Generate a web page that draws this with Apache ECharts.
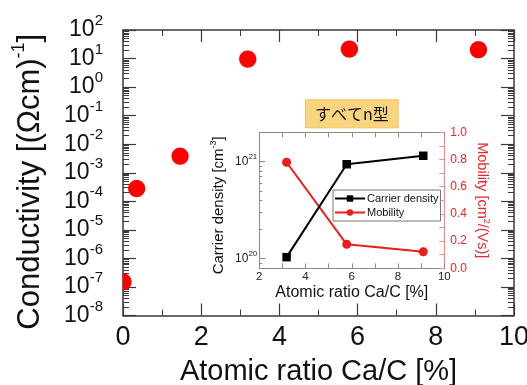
<!DOCTYPE html>
<html>
<head>
<meta charset="utf-8">
<script src="https://cdn.jsdelivr.net/npm/echarts@6/dist/echarts.min.js"></script>
<style>
  html, body { margin: 0; padding: 0; background: #ffffff; }
  #chart { width: 527px; height: 385px; }
</style>
</head>
<body>
<div id="chart"></div>
<script>
// Main panel: electrical conductivity against Ca content
const caRatio = [0, 0.35, 1.46, 3.19, 5.79, 9.09];
const conductivity = [1.5e-7, 2.8e-4, 3.8e-3, 9.6, 21.5, 20.4];

// Inset: Hall measurement results
const insetRatio = [3.18, 5.78, 9.09];
const carrierDensity = [1.03e20, 9.4e20, 1.15e21];
const mobility = [0.78, 0.176, 0.122];

// Series / legend names and panel texts
const seriesNames = ['Carrier density', 'Mobility'];
const badgeText = 'すべてn型';

// Axis ranges
const mainX = [0, 10];
const mainY = [1e-8, 1e2];
const insetX = [2, 10];
const insetDensity = [7.9e19, 2.01e21];
const insetMobility = [0, 1];

const FONT = '"Liberation Sans", Arial, sans-serif';
const AXIS_DARK = '#3a3a3a';
const INSET_GRAY = '#8a8a8a';
const RED = '#ff0000';
const INSET_RED = '#e8272b';

// "10^n" label for exact powers of ten, empty otherwise
function pow10Label(v) {
  const e = Math.round(Math.log10(v));
  if (Math.abs(Math.log10(v) - e) > 1e-6) return '';
  return '{b|10}{s|' + e + '}';
}

function mirrorAxis(extra) {
  return Object.assign({
    axisLine: { show: true, onZero: false, lineStyle: { color: AXIS_DARK, width: 1.5 } },
    axisTick: { show: true, inside: true, length: 12, lineStyle: { color: AXIS_DARK, width: 1.2 } },
    minorTick: { show: true, length: 6, lineStyle: { color: AXIS_DARK, width: 1 } },
    axisLabel: { show: false },
    splitLine: { show: false },
    minorSplitLine: { show: false }
  }, extra);
}

// Filled disc cut to the plotting rectangle [x0, x1] x [y0, y1]
function clippedDisc(cx, cy, r, x0, x1, y0, y1) {
  const pts = [];
  const n = 60;
  for (let k = 0; k < n; k++) {
    const a = (k / n) * Math.PI * 2;
    const x = Math.min(Math.max(cx + r * Math.cos(a), x0), x1);
    const y = Math.min(Math.max(cy + r * Math.sin(a), y0), y1);
    pts.push([x, y]);
  }
  return pts;
}

const chart = echarts.init(document.getElementById('chart'), null, { renderer: 'canvas' });

const option = {
  backgroundColor: '#ffffff',
  animation: false,
  grid: [
    { left: 123, right: 13, top: 30, bottom: 69.5, outerBoundsMode: 'none' },
    { left: 259.3, right: 82.7, top: 132.3, bottom: 116.7, outerBoundsMode: 'none' }
  ],
  legend: {
    left: 333, top: 190,
    orient: 'vertical',
    itemWidth: 30, itemHeight: 8, itemGap: 3,
    padding: [3, 2, 3, 1],
    borderColor: '#777', borderWidth: 1,
    backgroundColor: '#ffffff',
    textStyle: { fontFamily: FONT, fontSize: 11, color: '#111', padding: [0, 0, 0, -3] },
    data: seriesNames
  },
  xAxis: [
    // main, bottom
    mirrorAxis({
      gridIndex: 0, type: 'value', position: 'bottom', min: mainX[0], max: mainX[1], interval: 2,
      minorTick: { show: true, splitNumber: 2, length: 6, lineStyle: { color: AXIS_DARK, width: 1 } },
      axisLabel: { show: true, margin: 9, fontFamily: FONT, fontSize: 27, color: '#111' },
      name: 'Atomic ratio Ca/C [%]', nameLocation: 'middle', nameGap: 42,
      nameTextStyle: { fontFamily: FONT, fontSize: 29, color: '#111' }
    }),
    // main, top mirror
    mirrorAxis({
      gridIndex: 0, type: 'value', position: 'top', min: mainX[0], max: mainX[1], interval: 2,
      minorTick: { show: true, splitNumber: 2, length: 6, lineStyle: { color: AXIS_DARK, width: 1 } }
    }),
    // inset, bottom
    mirrorAxis({
      gridIndex: 1, type: 'value', position: 'bottom', min: insetX[0], max: insetX[1], interval: 2,
      axisLine: { show: true, onZero: false, lineStyle: { color: INSET_GRAY, width: 1 } },
      axisTick: { show: true, inside: true, length: 5, lineStyle: { color: INSET_GRAY, width: 1 } },
      minorTick: { show: true, splitNumber: 2, length: 5, lineStyle: { color: INSET_GRAY, width: 1 } },
      axisLabel: { show: true, margin: 3, fontFamily: FONT, fontSize: 11.5, color: '#222' },
      name: 'Atomic ratio Ca/C [%]', nameLocation: 'middle', nameGap: 16,
      nameTextStyle: { fontFamily: FONT, fontSize: 16, color: '#111' }
    }),
    // inset, top mirror
    mirrorAxis({
      gridIndex: 1, type: 'value', position: 'top', min: insetX[0], max: insetX[1], interval: 2,
      axisLine: { show: true, onZero: false, lineStyle: { color: INSET_GRAY, width: 1 } },
      axisTick: { show: true, inside: true, length: 5, lineStyle: { color: INSET_GRAY, width: 1 } },
      minorTick: { show: true, splitNumber: 2, length: 5, lineStyle: { color: INSET_GRAY, width: 1 } }
    })
  ],
  yAxis: [
    // main, left (log)
    mirrorAxis({
      gridIndex: 0, type: 'log', logBase: 10, position: 'left', min: mainY[0], max: mainY[1], interval: 1,
      axisTick: { show: true, inside: true, length: 13, lineStyle: { color: AXIS_DARK, width: 1.2 } },
      minorTick: { show: true, splitNumber: 9, length: 6, lineStyle: { color: AXIS_DARK, width: 1 } },
      axisLabel: {
        show: true, margin: 20, color: '#111', fontFamily: FONT,
        formatter: v => pow10Label(v),
        rich: {
          b: { fontFamily: FONT, fontSize: 23, color: '#111' },
          s: { fontFamily: FONT, fontSize: 15, color: '#111', padding: [0, 0, 18, 0] }
        }
      },
      name: 'Conductivity [(Ωcm){s|-1}]', nameLocation: 'middle', nameGap: 73, nameRotate: 90,
      nameTextStyle: {
        fontFamily: FONT, fontSize: 31, color: '#111', padding: [0, 18, 0, 0],
        rich: { s: { fontFamily: FONT, fontSize: 18, color: '#111', padding: [0, 0, 22, 0] } }
      }
    }),
    // main, right mirror (log)
    mirrorAxis({
      gridIndex: 0, type: 'log', logBase: 10, position: 'right', min: mainY[0], max: mainY[1], interval: 1,
      axisTick: { show: true, inside: true, length: 13, lineStyle: { color: AXIS_DARK, width: 1.2 } },
      minorTick: { show: true, splitNumber: 9, length: 6, lineStyle: { color: AXIS_DARK, width: 1 } }
    }),
    // inset, left (log carrier density)
    mirrorAxis({
      gridIndex: 1, type: 'log', logBase: 10, position: 'left', min: insetDensity[0], max: insetDensity[1],
      axisLine: { show: true, onZero: false, lineStyle: { color: INSET_GRAY, width: 1 } },
      axisTick: { show: true, inside: true, length: 6, lineStyle: { color: INSET_GRAY, width: 1 } },
      minorTick: { show: true, splitNumber: 9, length: 3, lineStyle: { color: INSET_GRAY, width: 1 } },
      axisLabel: {
        show: true, margin: 2, color: '#222', fontFamily: FONT,
        formatter: v => pow10Label(v),
        rich: {
          b: { fontFamily: FONT, fontSize: 12, color: '#222' },
          s: { fontFamily: FONT, fontSize: 8, color: '#222', padding: [0, 0, 9, 0] }
        }
      },
      name: 'Carrier density [cm{s|-3}]', nameLocation: 'middle', nameGap: 31, nameRotate: 90,
      nameTextStyle: {
        fontFamily: FONT, fontSize: 15, color: '#111', padding: [0, 10, 0, 0],
        rich: { s: { fontFamily: FONT, fontSize: 9, color: '#111', padding: [0, 0, 10, 0] } }
      }
    }),
    // inset, right (mobility)
    mirrorAxis({
      gridIndex: 1, type: 'value', position: 'right', min: insetMobility[0], max: insetMobility[1], interval: 0.2,
      axisLine: { show: true, onZero: false, lineStyle: { color: '#f08c8c', width: 1.2 } },
      axisTick: { show: true, inside: true, length: 5, lineStyle: { color: '#f08c8c', width: 1 } },
      minorTick: { show: true, splitNumber: 2, length: 5, lineStyle: { color: '#f08c8c', width: 1 } },
      axisLabel: {
        show: true, margin: 6, fontFamily: FONT, fontSize: 12, color: INSET_RED,
        formatter: v => v.toFixed(1)
      },
      name: 'Mobility [cm{s|2}/(Vs)]', nameLocation: 'middle', nameGap: 28, nameRotate: -90,
      nameTextStyle: {
        fontFamily: FONT, fontSize: 14.5, color: INSET_RED,
        rich: { s: { fontFamily: FONT, fontSize: 9, color: INSET_RED, padding: [0, 0, 10, 0] } }
      }
    })
  ],
  graphic: [
    {
      type: 'group', left: 305, top: 99.3,
      children: [
        {
          type: 'rect', shape: { x: 0, y: 0, width: 92.7, height: 28 },
          style: { fill: '#f9d47e', stroke: '#f3c45e', lineWidth: 1 }
        },
        {
          type: 'text', x: 46.3, y: 14,
          style: {
            text: badgeText, fill: '#111',
            font: '16px "Noto Sans CJK JP", sans-serif',
            align: 'center', verticalAlign: 'middle'
          }
        }
      ]
    }
  ],
  series: [
    {
      name: 'Conductivity',
      type: 'custom',
      xAxisIndex: 0, yAxisIndex: 0,
      encode: { x: 0, y: 1 },
      data: caRatio.map((x, i) => [x, conductivity[i]]),
      renderItem: (params, api) => {
        const p = api.coord([api.value(0), api.value(1)]);
        const lo = api.coord([mainX[0], mainY[0]]);
        const hi = api.coord([mainX[1], mainY[1]]);
        return {
          type: 'polygon',
          shape: {
            points: clippedDisc(p[0], p[1], 8.6,
              Math.min(lo[0], hi[0]), Math.max(lo[0], hi[0]),
              Math.min(lo[1], hi[1]), Math.max(lo[1], hi[1]))
          },
          style: { fill: RED }
        };
      }
    },
    {
      name: seriesNames[0],
      type: 'line',
      xAxisIndex: 2, yAxisIndex: 2,
      data: insetRatio.map((x, i) => [x, carrierDensity[i]]),
      symbol: 'rect', symbolSize: 8.5,
      itemStyle: { color: '#000000' },
      lineStyle: { color: '#000000', width: 2 },
      z: 5
    },
    {
      name: seriesNames[1],
      type: 'line',
      xAxisIndex: 2, yAxisIndex: 3,
      data: insetRatio.map((x, i) => [x, mobility[i]]),
      symbol: 'circle', symbolSize: 9,
      itemStyle: { color: '#ee1c1c' },
      lineStyle: { color: '#ee1c1c', width: 2 },
      z: 4
    }
  ]
};

chart.setOption(option);
</script>
</body>
</html>
